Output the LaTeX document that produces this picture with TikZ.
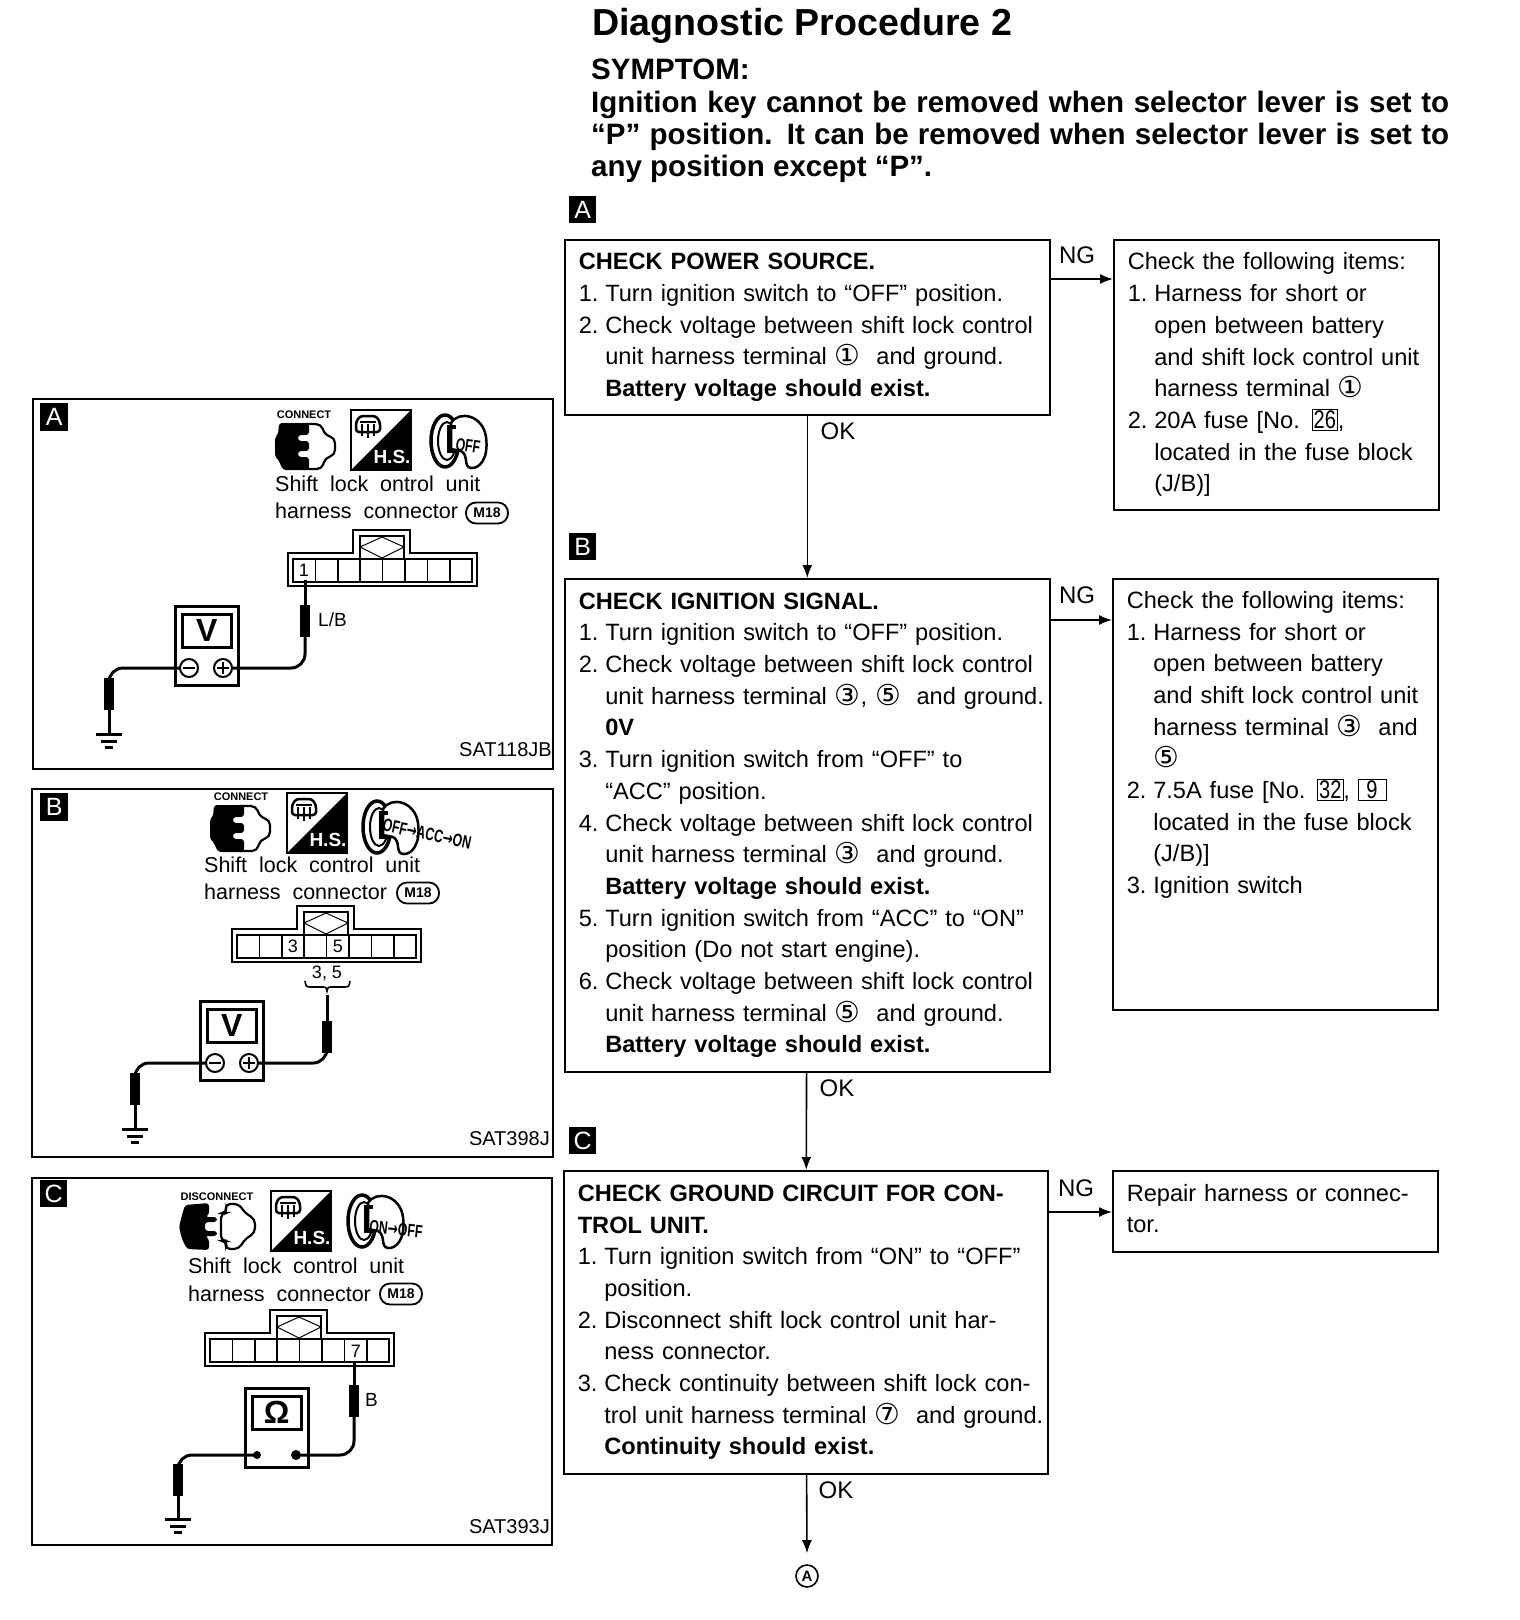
\documentclass[tikz,border=0pt]{standalone}
\usepackage{fontspec}
\usepackage{graphicx}
\usetikzlibrary{arrows.meta}
\setmainfont{Liberation Sans}
\newfontfamily\symfont{DejaVu Sans}

\newcommand*{\bodyfont}{\fontsize{23.6}{31.7}\selectfont}
\newcommand*{\panelfont}{\fontsize{21.5}{27}\selectfont\spaceskip=0.55em\relax}
\newcommand*{\cnum}[1]{\raisebox{-1pt}{\scalebox{1.22}{\symfont #1}}}
\newcommand*{\fuse}[1]{{\fboxsep=1.5pt\fbox{\scalebox{.85}[1.08]{#1}}}}
\newcommand*{\itm}[2]{\mbox{\makebox[26.5pt][l]{#1}#2}}
\newcommand*{\cnt}[1]{\mbox{\hspace*{26.5pt}#1}}
\newcommand*{\hd}[1]{\mbox{\textbf{#1}}}

% connector block: x, y of the outer top left corner
\newcommand*{\harness}[2]{
	\begin{scope}[shift={(#1,#2)}]
		\draw[thin2] (0,0) -- (65,0) -- (65,-23) -- (122,-23) -- (122,0) -- (189,0) -- (189,33) -- (0,33) -- cycle;
		\draw[thin2] (72,6) -- (72,-17) -- (116,-17) -- (116,6);
		\draw[thin1] (72,-6) -- (94,-16) -- (116,-6) -- (94,5) -- cycle;
		\foreach \c in {0,...,7}
			\draw[thin2] (\c*22.4+5,6) rectangle (\c*22.4+27.4,29);
	\end{scope}
}

% icon with the diagonal: x, y, name
\newcommand*{\hsicon}[3]{
	\begin{scope}[shift={(#1,#2)}]
		\draw[thin2] (0,0) rectangle (60,60);
		\fill (60,0) -- (60,60) -- (0,60) -- cycle;
		\draw[line width=2.5pt,rounded corners=3pt] (5,12) -- (9,6) -- (25,6) -- (29,12) -- (29,22) -- (5,22) -- cycle;
		\draw[line width=1.5pt] (9,12) -- (25,12) (11,14) -- (11,26) (17,14) -- (17,28) (23,14) -- (23,26);
		\node[hstext] at (41,47) (#3) {H.S.};
	\end{scope}
}

% ignition key: x, y
\newcommand*{\keyicon}[2]{
	\begin{scope}[shift={(#1,#2)}]
		\draw[line width=3.5pt] (16,28) ellipse (14 and 26);
		\draw[line width=2pt] (18,28) ellipse (9 and 19);
		\draw[line width=2.5pt,fill=white] (22,10) .. controls (30,-3) and (54,2) .. (57,24) .. controls (60,46) and (50,56) .. (42,55) .. controls (34,54) and (40,42) .. (32,38) -- (22,36) -- cycle;
		\draw[line width=3.5pt] (27,14) -- (20,14) -- (20,38) -- (27,38);
	\end{scope}
}

% plug halves pushed together: x, y
\newcommand*{\plugon}[2]{
	\begin{scope}[shift={(#1,#2)}]
		\draw[line width=2.2pt,rounded corners=5pt] (30,1) -- (46,1) -- (50,12) -- (60,15) -- (60,32) -- (50,35) -- (47,46) -- (30,46);
		\fill[rounded corners=3pt] (4,0) -- (34,0) -- (34,12) -- (23,12) -- (23,18) -- (34,18) -- (34,28) -- (23,28) -- (23,34) -- (34,34) -- (34,47) -- (8,47) -- (3,36) -- (0,34) -- (0,14) -- (3,12) -- cycle;
	\end{scope}
}

% plug halves pulled apart: x, y
\newcommand*{\plugoff}[2]{
	\begin{scope}[shift={(#1,#2)}]
		\fill[rounded corners=3pt] (6,2) -- (30,0) -- (30,12) -- (26,14) -- (38,14) -- (38,19) -- (26,19) -- (26,28) -- (38,28) -- (38,33) -- (26,33) -- (30,36) -- (30,47) -- (8,46) -- (3,36) -- (0,24) -- (3,12) -- cycle;
		\draw[line width=2.2pt,rounded corners=5pt] (48,10) -- (42,10) -- (42,38) -- (48,38) -- (46,46) -- (60,46) -- (66,36) -- (76,30) -- (76,16) -- (66,10) -- (60,1) -- (46,1) -- cycle;
	\end{scope}
}

% meter case with its screen: x, y, prefix, screen text
\newcommand*{\meterbox}[4]{
	\begin{scope}[shift={(#1,#2)}]
		\node[meterbody] at (0,0) (#3body) {};
		\node[meterscreen] at (7,8) (#3screen) {#4};
	\end{scope}
}

% plus and minus terminals: x, y, prefix
\newcommand*{\terminals}[3]{
	\node[terminal] at (#1,#2) (#3minus) {};
	\node[terminal] at (#1+34,#2) (#3plus) {};
	\draw[thin2] (#1-6,#2) -- (#1+6,#2);
	\draw[thin2] (#1+28,#2) -- (#1+40,#2) (#1+34,#2-6) -- (#1+34,#2+6);
}

% ground: x, y, name
\newcommand*{\earth}[3]{
	\coordinate (#3) at (#1,#2);
	\draw[line width=3pt] (#1-13,#2) -- (#1+13,#2);
	\draw[line width=3pt] (#1-8,#2+7) -- (#1+8,#2+7);
	\draw[line width=3pt] (#1-4,#2+13) -- (#1+4,#2+13);
}

\begin{document}
\begin{tikzpicture}
[
	x=1pt,y=-1pt,
	>={Latex[length=13pt,width=10pt]},
	thin1/.style={line width=1pt},
	thin2/.style={line width=1.6pt},
	checkbox/.style={draw,line width=1.6pt,anchor=north west,align=left,inner xsep=14pt,inner ysep=0pt,font=\bodyfont},
	panel/.style={draw,line width=1.8pt,anchor=north west,inner sep=0pt},
	tag/.style={fill=black,text=white,anchor=north west,inner sep=0pt,minimum size=27pt,font=\fontsize{25}{25}\selectfont},
	lab/.style={font=\fontsize{24}{24}\selectfont},
	flow/.style={line width=1.6pt},
	paneltext/.style={anchor=west,align=left,inner sep=0pt,font=\panelfont},
	code/.style={anchor=east,inner sep=0pt,font=\fontsize{20}{20}\selectfont},
	oval/.style={draw,line width=1.8pt,rounded corners=10pt,inner sep=0pt,minimum width=42pt,minimum height=21pt,font=\bfseries\fontsize{14}{14}\selectfont},
	cellnum/.style={inner sep=0pt,font=\fontsize{18}{18}\selectfont},
	wirelab/.style={anchor=west,inner sep=0pt,font=\fontsize{19}{19}\selectfont},
	wire/.style={line width=3pt},
	probe/.style={fill=black,inner sep=0pt,minimum width=9.5pt,minimum height=32pt},
	terminal/.style={circle,draw,line width=2pt,inner sep=0pt,minimum size=18pt},
	meterbody/.style={draw,line width=2.5pt,anchor=north west,inner sep=0pt,minimum width=63pt,minimum height=79pt},
	meterscreen/.style={draw,line width=2.5pt,anchor=north west,inner sep=0pt,minimum width=49pt,minimum height=33pt,font=\bfseries\fontsize{32}{32}\selectfont},
	hstext/.style={text=white,inner sep=0pt,font=\bfseries\fontsize{19}{19}\selectfont},
	keytext/.style={inner sep=0pt,font=\bfseries\fontsize{18}{18}\selectfont},
	plugtext/.style={inner sep=0pt,font=\bfseries\fontsize{11}{11}\selectfont}
]

	\useasboundingbox (0,0) rectangle (1520,1620);

	% heading
	\node[anchor=west,inner sep=0pt,font=\bfseries\fontsize{37.6}{37.6}\selectfont] at (592,26) (title) {Diagnostic Procedure 2};
	\node[anchor=north west,align=left,inner sep=0pt,font=\bfseries\fontsize{29.5}{32.3}\selectfont] at (591,59) (symptom) {SYMPTOM:\\
		\makebox[858pt][s]{Ignition key cannot be removed when selector lever is set to}\\
		\makebox[858pt][s]{``P'' position. It can be removed when selector lever is set to}\\
		any position except ``P''.};

	% check A
	\node[tag] at (569,196) (taga) {A};
	\node[checkbox,text width=457pt,minimum height=175pt] at (564,239) (checka) {\hd{CHECK POWER SOURCE.}\\
		\itm{1.}{Turn ignition switch to ``OFF'' position.}\\
		\itm{2.}{Check voltage between shift lock control}\\
		\cnt{unit harness terminal \cnum{①} \ and ground.}\\
		\cnt{\textbf{Battery voltage should exist.}}};
	\node[checkbox,text width=297pt,minimum height=270pt] at (1113,239) (itemsa) {\mbox{Check the following items:}\\
		\itm{1.}{Harness for short or}\\
		\cnt{open between battery}\\
		\cnt{and shift lock control unit}\\
		\cnt{harness terminal \cnum{①}}\\
		\itm{2.}{20A fuse [No. \fuse{26},}\\
		\cnt{located in the fuse block}\\
		\cnt{(J/B)]}};
	\node[lab] at (1077,255) (nga) {NG};
	\node[lab] at (838,431) (oka) {OK};

	% check B
	\node[tag] at (569,533) (tagb) {B};
	\node[checkbox,text width=457pt,minimum height=493pt] at (564,578) (checkb) {\hd{CHECK IGNITION SIGNAL.}\\
		\itm{1.}{Turn ignition switch to ``OFF'' position.}\\
		\itm{2.}{Check voltage between shift lock control}\\
		\cnt{unit harness terminal \cnum{③}, \cnum{⑤} \ and ground.}\\
		\cnt{\textbf{0V}}\\
		\itm{3.}{Turn ignition switch from ``OFF'' to}\\
		\cnt{``ACC'' position.}\\
		\itm{4.}{Check voltage between shift lock control}\\
		\cnt{unit harness terminal \cnum{③} \ and ground.}\\
		\cnt{\textbf{Battery voltage should exist.}}\\
		\itm{5.}{Turn ignition switch from ``ACC'' to ``ON''}\\
		\cnt{position (Do not start engine).}\\
		\itm{6.}{Check voltage between shift lock control}\\
		\cnt{unit harness terminal \cnum{⑤} \ and ground.}\\
		\cnt{\textbf{Battery voltage should exist.}}};
	\node[checkbox,text width=297pt,minimum height=431pt] at (1112,578) (itemsb) {\mbox{Check the following items:}\\
		\itm{1.}{Harness for short or}\\
		\cnt{open between battery}\\
		\cnt{and shift lock control unit}\\
		\cnt{harness terminal \cnum{③} \ and}\\
		\cnt{\cnum{⑤}}\\
		\itm{2.}{7.5A fuse [No. \fuse{32}, \fuse{\ 9\ }}\\
		\cnt{located in the fuse block}\\
		\cnt{(J/B)]}\\
		\itm{3.}{Ignition switch}\\[72pt]
		\mbox{}};
	\node[lab] at (1077,595) (ngb) {NG};
	\node[lab] at (837,1088) (okb) {OK};

	% check C
	\node[tag] at (569,1127) (tagc) {C};
	\node[checkbox,text width=456pt,minimum height=303pt] at (563,1170) (checkc) {\hd{CHECK GROUND CIRCUIT FOR CON-}\\
		\hd{TROL UNIT.}\\
		\itm{1.}{Turn ignition switch from ``ON'' to ``OFF''}\\
		\cnt{position.}\\
		\itm{2.}{Disconnect shift lock control unit har-}\\
		\cnt{ness connector.}\\
		\itm{3.}{Check continuity between shift lock con-}\\
		\cnt{trol unit harness terminal \cnum{⑦} \ and ground.}\\
		\cnt{\textbf{Continuity should exist.}}};
	\node[checkbox,text width=297pt,minimum height=81pt] at (1112,1170) (itemsc) {\mbox{Repair harness or connec-}\\
		\mbox{tor.}\\[-26pt]
		\mbox{}};
	\node[lab] at (1076,1188) (ngc) {NG};
	\node[lab] at (836,1490) (okc) {OK};
	\node[circle,draw,line width=1.6pt,inner sep=0pt,minimum size=22pt,font=\bfseries\fontsize{15}{15}\selectfont] at (807,1576) (next) {A};

	% flow
	\draw[->,flow] ([yshift=-40pt]checka.north east) -- ([yshift=-40pt]itemsa.north west);
	\draw[->,flow] ([yshift=-42pt]checkb.north east) -- ([yshift=-42pt]itemsb.north west);
	\draw[->,flow] ([yshift=-42pt]checkc.north east) -- ([yshift=-42pt]itemsc.north west);
	\draw[->,flow] (checka) -- (checkb);
	\draw[->,flow] (checkb) -- (checkc);
	\draw[->,flow] (checkc) -- ([yshift=11pt]next.north);

	% panel A
	\node[panel,minimum width=520pt,minimum height=370pt] at (32,398) (panela) {};
	\node[tag,minimum size=28pt] at (40,403) (tagpa) {A};
	\node[plugtext] at (304,415) (plugpa) {CONNECT};
	\plugon{275}{423}
	\hsicon{351}{410}{hspa}
	\keyicon{429}{413}
	\node[keytext,rotate=-8] at (468,446) (keypa) {\scalebox{.68}[1]{OFF}};
	\node[paneltext] at (275,484) (namepa) {Shift lock ontrol unit};
	\node[paneltext] at (275,511) (connpa) {harness connector};
	\node[oval] at (487,513) (ovalpa) {M18};
	\harness{288}{553}
	\node[cellnum] at (304,570) (pinone) {1};
	\coordinate (pinpa) at (305,580);
	\node[probe] at (305,621) (probepa) {};
	\node[wirelab] at (318,620) (colpa) {L/B};
	\meterbox{174}{605}{mpa}{V}
	\terminals{189}{668}{mpa}
	\draw[wire] (pinpa) -- (probepa);
	\draw[wire,rounded corners=14pt] (mpaplus) -| (probepa);
	\node[probe] at (109,694) (leadpa) {};
	\earth{109}{734}{gndpa}
	\draw[wire,rounded corners=14pt] (mpaminus) -| (leadpa);
	\draw[wire] (leadpa) -- (gndpa);
	\node[code] at (552,750) (codepa) {SAT118JB};

	% panel B
	\node[panel,minimum width=521pt,minimum height=368pt] at (31,788) (panelb) {};
	\node[tag,minimum size=28pt] at (40,793) (tagpb) {B};
	\node[plugtext] at (241,797) (plugpb) {CONNECT};
	\plugon{210}{805}
	\hsicon{287}{793}{hspb}
	\keyicon{361}{799}
	\node[keytext,rotate=-12] at (427,834) (keypb) {\scalebox{.68}[1]{OFF{\symfont →}ACC{\symfont →}ON}};
	\node[paneltext] at (204,865) (namepb) {Shift lock control unit};
	\node[paneltext] at (204,892) (connpb) {harness connector};
	\node[oval] at (418,893) (ovalpb) {M18};
	\harness{232}{929}
	\node[cellnum] at (293,946) (pinthree) {3};
	\node[cellnum] at (338,946) (pinfive) {5};
	\node[cellnum] at (327,973) (pinspb) {3, 5};
	\draw[thin2] (305,981) .. controls (306,987) .. (312,987) -- (322,987) .. controls (326,987) .. (327,991) .. controls (328,987) .. (332,987) -- (343,987) .. controls (349,987) .. (350,981);
	\coordinate (pinpb) at (327,995);
	\node[probe] at (327,1037) (probepb) {};
	\meterbox{199}{1000}{mpb}{V}
	\terminals{215}{1063}{mpb}
	\draw[wire] (pinpb) -- (probepb);
	\draw[wire,rounded corners=14pt] (mpbplus) -| (probepb);
	\node[probe] at (135,1089) (leadpb) {};
	\earth{135}{1129}{gndpb}
	\draw[wire,rounded corners=14pt] (mpbminus) -| (leadpb);
	\draw[wire] (leadpb) -- (gndpb);
	\node[code] at (550,1139) (codepb) {SAT398J};

	% panel C
	\node[panel,minimum width=520pt,minimum height=367pt] at (31,1177) (panelc) {};
	\node[tag] at (40,1180) (tagpc) {C};
	\node[plugtext] at (217,1197) (plugpc) {DISCONNECT};
	\plugoff{179}{1203}
	\hsicon{271}{1191}{hspc}
	\keyicon{346}{1193}
	\node[keytext,rotate=-6] at (396,1229) (keypc) {\scalebox{.68}[1]{ON{\symfont →}OFF}};
	\node[paneltext] at (188,1266) (namepc) {Shift lock control unit};
	\node[paneltext] at (188,1294) (connpc) {harness connector};
	\node[oval] at (401,1294) (ovalpc) {M18};
	\harness{205}{1333}
	\node[cellnum] at (356,1351) (pinseven) {7};
	\coordinate (pinpc) at (354,1361);
	\node[probe] at (354,1401) (probepc) {};
	\node[wirelab] at (365,1400) (colpc) {B};
	\meterbox{244}{1387}{mpc}{Ω}
	\fill (257,1455) circle (4);
	\fill (296,1455) circle (5);
	\coordinate (mpcminus) at (257,1455);
	\coordinate (mpcplus) at (296,1455);
	\draw[wire] (pinpc) -- (probepc);
	\draw[wire,rounded corners=14pt] (mpcplus) -| (probepc);
	\node[probe] at (178,1480) (leadpc) {};
	\earth{178}{1519}{gndpc}
	\draw[wire,rounded corners=14pt] (mpcminus) -| (leadpc);
	\draw[wire] (leadpc) -- (gndpc);
	\node[code] at (550,1527) (codepc) {SAT393J};

\end{tikzpicture}
\end{document}
